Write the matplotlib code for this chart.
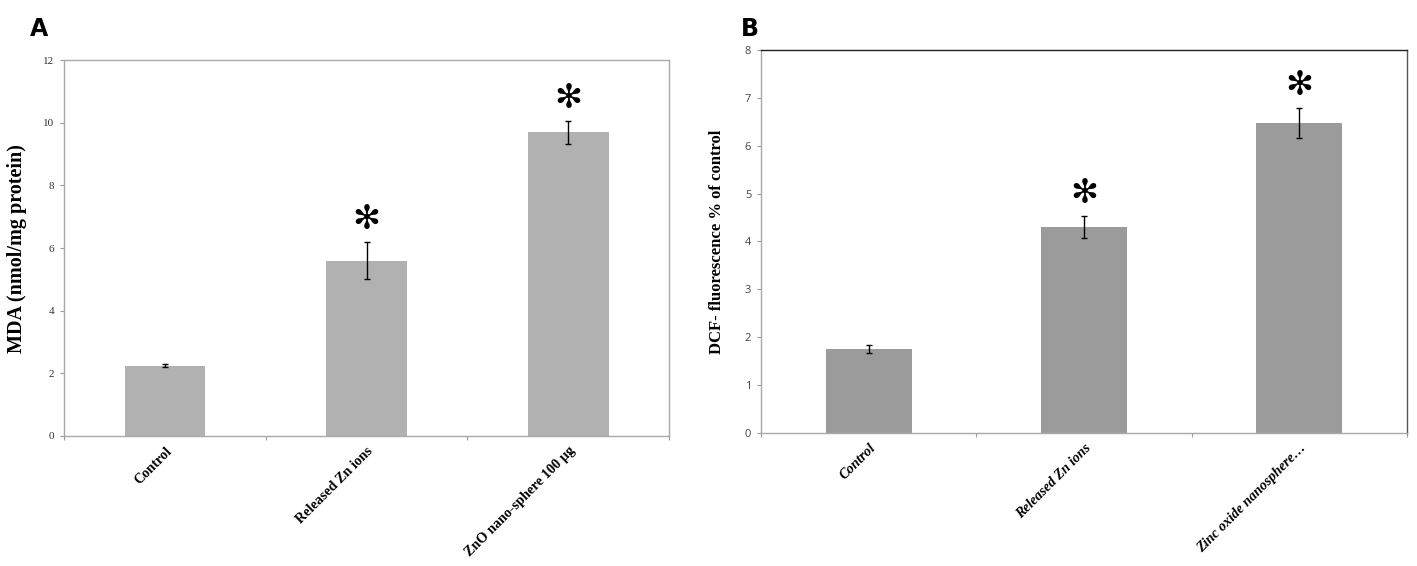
import matplotlib
matplotlib.use('Agg')
import matplotlib.pyplot as plt

# panel A - MDA
cats_a = ['Control', 'Released Zn ions', 'ZnO nano-sphere 100 µg']
mda = [2.25, 5.6, 9.7]
mda_err = [0.06, 0.6, 0.37]
stars_a = [False, True, True]

# panel B - DCF fluorescence
cats_b = ['Control', 'Released Zn ions', 'Zinc oxide nanosphere…']
dcf = [1.75, 4.3, 6.47]
dcf_err = [0.09, 0.22, 0.32]
stars_b = [False, True, True]

fig = plt.figure(figsize=(14.17, 5.66), dpi=100)
ax1 = fig.add_axes([0.0452, 0.2297, 0.427, 0.664])
ax2 = fig.add_axes([0.537, 0.235, 0.456, 0.677])

serif = 'Liberation Serif'


def draw(ax, cats, vals, errs, stars, color, ymax, ystep, star_off, italic, tickfont, tickcol):
    x = list(range(len(cats)))
    ax.bar(x, vals, width=0.4, color=color, zorder=2)
    ax.errorbar(x, vals, yerr=errs, fmt='none', ecolor='black', elinewidth=1,
                capsize=2.5, capthick=1, zorder=3)
    for xi, v, e, s in zip(x, vals, errs, stars):
        if s:
            ax.text(xi, v + e + star_off, '✻', ha='center', va='center',
                    fontsize=24, fontweight='bold', color='black', family='DejaVu Sans')
    ax.set_xlim(-0.5, len(cats) - 0.5)
    ax.set_ylim(0, ymax)
    ax.set_yticks([i * ystep for i in range(int(ymax / ystep) + 1)])
    ax.set_yticklabels([str(i * ystep) for i in range(int(ymax / ystep) + 1)],
                       family=tickfont, fontsize=8, color=tickcol)
    ax.set_xticks([i - 0.5 for i in range(len(cats) + 1)])
    ax.set_xticklabels([])
    ax.set_xticks(x, minor=True)
    ax.set_xticklabels(cats, minor=True, rotation=45, ha='right', rotation_mode='anchor',
                       family=serif, fontweight='bold', fontsize=10.2,
                       fontstyle='italic' if italic else 'normal')
    ax.tick_params(axis='x', which='minor', length=0, pad=6)
    ax.tick_params(axis='x', which='major', length=3, color='#999999', direction='out')
    ax.tick_params(axis='y', length=3, color='#999999', direction='out', pad=4)


draw(ax1, cats_a, mda, mda_err, stars_a, '#b1b1b1', 12, 2, 0.72, False, serif, '#333333')
draw(ax2, cats_b, dcf, dcf_err, stars_b, '#9b9b9b', 8, 1, 0.47, True, 'Open Sans', '#444444')

for sp in ax1.spines.values():
    sp.set_color('#a8a8a8')
    sp.set_linewidth(1)
ax2.spines['left'].set_color('#a8a8a8')
ax2.spines['bottom'].set_color('#a8a8a8')
ax2.spines['top'].set_color('#222222')
ax2.spines['right'].set_color('#555555')
for sp in ax2.spines.values():
    sp.set_linewidth(1)

ax1.set_ylabel('MDA (nmol/mg protein)', family=serif, fontweight='bold', fontsize=14.5, labelpad=12)
ax2.set_ylabel('DCF- fluorescence % of control', family=serif, fontweight='bold', fontsize=12, labelpad=14)

fig.text(0.021, 0.97, 'A', family='DejaVu Sans', fontweight='bold', fontsize=17, va='top')
fig.text(0.523, 0.97, 'B', family='DejaVu Sans', fontweight='bold', fontsize=17, va='top')

fig.savefig('out.png', dpi=100)
